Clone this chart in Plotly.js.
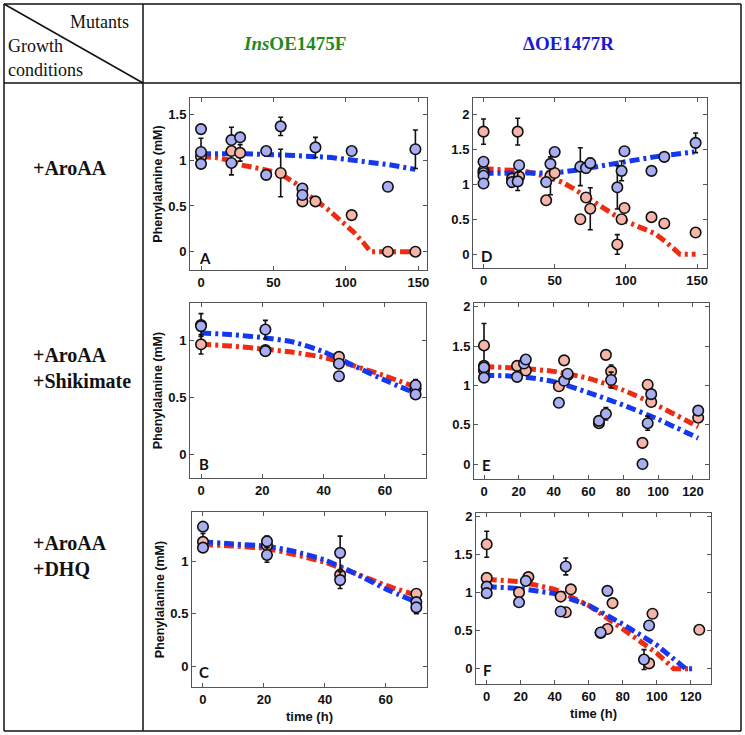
<!DOCTYPE html>
<html>
<head>
<meta charset="utf-8">
<script src="https://cdn.plot.ly/plotly-3.0.1.min.js"></script>
<style>html,body{margin:0;padding:0;background:#fff;}#chart{width:745px;height:735px;}</style>
</head>
<body>
<div id="chart"></div>
<script>
// ---------- Table texts ----------
const columnHeaders = ["<i>Ins</i>OE1475F", "ΔOE1477R"];
const rowLabels = ["+AroAA", "+AroAA<br>+Shikimate", "+AroAA<br>+DHQ"];
const panelLetters = ["A", "D", "B", "E", "C", "F"];

// ---------- Panel A : InsOE1475F, +AroAA ----------
const A_pink_x = [0, 21, 27, 55, 70, 79, 104, 129, 148];
const A_pink_y = [1.04, 1.10, 1.08, 0.86, 0.55, 0.55, 0.40, 0, 0];
const A_pink_err = [0, 0.26, 0.09, 0.26, 0, 0, 0, 0, 0];
const A_blue_x = [0, 0, 0, 21, 21, 27, 45, 45, 55, 70, 70, 79, 104, 129, 148];
const A_blue_y = [1.34, 1.09, 0.96, 1.22, 0.97, 1.25, 1.10, 0.84, 1.37, 0.69, 0.62, 1.14, 1.10, 0.71, 1.12];
const A_blue_err = [0.03, 0.15, 0.02, 0, 0, 0, 0, 0.03, 0.10, 0.03, 0, 0.11, 0, 0, 0.21];
const A_fitRed_x = [0, 10, 20, 27, 40, 54, 65, 74, 87, 97, 105, 112, 117, 130, 148];
const A_fitRed_y = [1.04, 1.03, 1.00, 0.95, 0.91, 0.86, 0.75, 0.62, 0.47, 0.33, 0.22, 0.10, 0, 0, 0];
const A_fitBlue_x = [0, 30, 60, 90, 110, 130, 148];
const A_fitBlue_y = [1.07, 1.07, 1.055, 1.03, 0.99, 0.95, 0.90];

// ---------- Panel D : ΔOE1477R, +AroAA ----------
const D_pink_x = [0, 0, 20, 24, 25, 44, 47, 50, 68, 72, 75, 94, 97, 99, 118, 127, 149];
const D_pink_y = [1.75, 1.19, 1.08, 1.75, 1.11, 0.77, 1.12, 1.16, 0.50, 0.81, 0.65, 0.14, 0.50, 0.66, 0.53, 0.44, 0.31];
const D_pink_err = [0.18, 0, 0, 0.19, 0.05, 0, 0.27, 0, 0, 0, 0.30, 0.14, 0, 0, 0.04, 0, 0];
const D_blue_x = [0, 0, 0, 0, 20, 24, 25, 44, 47, 50, 68, 72, 75, 94, 97, 99, 118, 127, 149];
const D_blue_y = [1.32, 1.16, 1.12, 1.01, 1.03, 1.04, 1.27, 1.03, 1.29, 1.46, 1.25, 1.23, 1.30, 0.955, 1.19, 1.47, 1.19, 1.39, 1.59];
const D_blue_err = [0, 0, 0, 0, 0, 0.13, 0, 0, 0.06, 0, 0.27, 0.07, 0.07, 0.31, 0.14, 0, 0, 0, 0.14];
const D_fitRed_x = [0, 15, 28, 44, 55, 63, 72, 82, 92, 101, 110, 120, 128, 134, 138, 149];
const D_fitRed_y = [1.22, 1.21, 1.19, 1.11, 1.03, 0.94, 0.82, 0.68, 0.56, 0.46, 0.39, 0.30, 0.18, 0.08, 0, 0];
const D_fitBlue_x = [0, 30, 50, 65, 80, 100, 120, 148];
const D_fitBlue_y = [1.155, 1.155, 1.16, 1.20, 1.25, 1.32, 1.39, 1.46];

// ---------- Panel B : InsOE1475F, +AroAA +Shikimate ----------
const B_pink_x = [0, 21, 45, 70];
const B_pink_y = [0.97, 0.92, 0.86, 0.58];
const B_pink_err = [0.085, 0, 0.03, 0];
const B_blue_x = [0, 0, 21, 21, 45, 45, 70, 70];
const B_blue_y = [1.14, 1.13, 1.10, 0.91, 0.80, 0.69, 0.61, 0.53];
const B_blue_err = [0.10, 0, 0.08, 0, 0, 0, 0.05, 0];
const B_fitRed_x = [0, 10, 21, 30, 40, 50, 60, 70];
const B_fitRed_y = [0.97, 0.955, 0.927, 0.90, 0.855, 0.78, 0.693, 0.595];
const B_fitBlue_x = [0, 10, 21, 30, 40, 50, 60, 70];
const B_fitBlue_y = [1.07, 1.055, 1.026, 0.99, 0.905, 0.78, 0.655, 0.54];

// ---------- Panel E : ΔOE1477R, +AroAA +Shikimate ----------
const E_pink_x = [0, 0, 19, 24, 43, 46, 48, 66, 70, 73, 91, 94, 96, 123];
const E_pink_y = [1.51, 1.19, 1.25, 1.19, 0.99, 1.32, 1.13, 0.52, 1.39, 1.18, 0.27, 1.01, 0.79, 0.59];
const E_pink_err = [0.28, 0, 0, 0, 0, 0.04, 0, 0, 0.04, 0.08, 0, 0.06, 0, 0];
const E_blue_x = [0, 0, 0, 19, 23, 24, 43, 46, 48, 66, 70, 73, 91, 94, 96, 123];
const E_blue_y = [1.25, 1.23, 1.10, 1.11, 1.28, 1.33, 0.78, 1.06, 1.15, 0.55, 0.64, 1.07, 0.0, 0.52, 0.89, 0.68];
const E_blue_err = [0, 0, 0, 0, 0, 0, 0, 0, 0, 0, 0.08, 0.10, 0, 0.09, 0.03, 0];
const E_fitRed_x = [0, 20, 40, 60, 80, 100, 123];
const E_fitRed_y = [1.24, 1.22, 1.18, 1.09, 0.94, 0.74, 0.475];
const E_fitBlue_x = [0, 20, 40, 60, 80, 100, 123];
const E_fitBlue_y = [1.13, 1.115, 1.05, 0.91, 0.75, 0.57, 0.33];

// ---------- Panel C : InsOE1475F, +AroAA +DHQ ----------
const C_pink_x = [0, 21, 45, 70];
const C_pink_y = [1.185, 1.15, 0.87, 0.69];
const C_pink_err = [0.08, 0, 0, 0];
const C_blue_x = [0, 0, 21, 21, 45, 45, 70, 70];
const C_blue_y = [1.33, 1.13, 1.19, 1.06, 1.08, 0.82, 0.61, 0.56];
const C_blue_err = [0, 0, 0.05, 0.07, 0.16, 0.08, 0, 0.06];
const C_fitRed_x = [0, 10, 21, 30, 40, 50, 60, 70];
const C_fitRed_y = [1.16, 1.145, 1.12, 1.064, 0.99, 0.884, 0.77, 0.675];
const C_fitBlue_x = [0, 10, 21, 30, 40, 50, 60, 70];
const C_fitBlue_y = [1.185, 1.165, 1.143, 1.094, 1.012, 0.882, 0.736, 0.61];

// ---------- Panel F : ΔOE1477R, +AroAA +DHQ ----------
const F_pink_x = [0, 0, 19, 24.5, 43.5, 46.5, 49.5, 67, 71, 74, 95.5, 97.5, 125];
const F_pink_y = [1.63, 1.19, 1.0, 1.20, 0.945, 0.74, 1.04, 0.47, 0.52, 0.86, 0.07, 0.72, 0.51];
const F_pink_err = [0.17, 0, 0, 0, 0, 0, 0, 0, 0, 0, 0, 0, 0];
const F_blue_x = [0, 0, 19, 23, 43.5, 46.5, 67, 71, 92.5, 95.5];
const F_blue_y = [1.076, 0.99, 0.87, 1.15, 0.75, 1.34, 0.475, 1.02, 0.12, 0.566];
const F_blue_err = [0, 0, 0.03, 0.06, 0, 0.11, 0, 0, 0.13, 0.03];
const F_fitRed_x = [0, 20, 40, 60, 80, 100, 110, 120];
const F_fitRed_y = [1.17, 1.14, 1.04, 0.83, 0.52, 0.205, 0, 0];
const F_fitBlue_x = [0, 20, 40, 60, 80, 100, 117, 123];
const F_fitBlue_y = [1.076, 1.05, 0.985, 0.83, 0.585, 0.31, 0, 0];

// ---------- Tick values ----------
const ticks150 = [0, 50, 100, 150];
const ticks60 = [0, 20, 40, 60];
const ticks120 = [0, 20, 40, 60, 80, 100, 120];
const ticksY15 = [0, 0.5, 1, 1.5];
const ticksY2 = [0, 0.5, 1, 1.5, 2];
const ticksY1 = [0, 0.5, 1];

// ---------- Styles ----------
const W = 745, H = 735;
const fx = px => px / W;
const fy = py => 1 - py / H;
const RED = '#ef2b12', BLUE = '#1538ee';
const PINK = '#f5b5a8', LAV = '#a9aef2';

const panels = [
  {id: '',  px: [190, 427], py: [98, 270],  xr: [-7.6, 156], yr: [-0.2, 1.68], xt: ticks150, yt: ticksY15, left: true,  bottom: false, lp: [205, 258],
   d: [A_pink_x, A_pink_y, A_pink_err, A_blue_x, A_blue_y, A_blue_err, A_fitRed_x, A_fitRed_y, A_fitBlue_x, A_fitBlue_y], shape: 'linear'},
  {id: '2', px: [473, 707], py: [98, 268],  xr: [-7.4, 157], yr: [-0.196, 2.23], xt: ticks150, yt: ticksY2, left: false, bottom: false, lp: [486, 256],
   d: [D_pink_x, D_pink_y, D_pink_err, D_blue_x, D_blue_y, D_blue_err, D_fitRed_x, D_fitRed_y, D_fitBlue_x, D_fitBlue_y], shape: 'linear'},
  {id: '3', px: [190, 426], py: [303, 478], xr: [-3.6, 73.4], yr: [-0.204, 1.333], xt: ticks60, yt: ticksY1, left: true, bottom: false, lp: [204, 464],
   d: [B_pink_x, B_pink_y, B_pink_err, B_blue_x, B_blue_y, B_blue_err, B_fitRed_x, B_fitRed_y, B_fitBlue_x, B_fitBlue_y], shape: 'spline'},
  {id: '4', px: [474, 709], py: [303, 479], xr: [-5.75, 129.2], yr: [-0.19, 2.05], xt: ticks120, yt: ticksY2, left: false, bottom: false, lp: [486, 465],
   d: [E_pink_x, E_pink_y, E_pink_err, E_blue_x, E_blue_y, E_blue_err, E_fitRed_x, E_fitRed_y, E_fitBlue_x, E_fitBlue_y], shape: 'spline'},
  {id: '5', px: [192, 427], py: [512, 687], xr: [-3.6, 73.5], yr: [-0.2, 1.47], xt: ticks60, yt: ticksY1, left: true, bottom: true, lp: [204, 672],
   d: [C_pink_x, C_pink_y, C_pink_err, C_blue_x, C_blue_y, C_blue_err, C_fitRed_x, C_fitRed_y, C_fitBlue_x, C_fitBlue_y], shape: 'spline'},
  {id: '6', px: [476, 711], py: [513, 684], xr: [-6.3, 131.9], yr: [-0.2, 2.04], xt: ticks120, yt: ticksY2, left: false, bottom: true, lp: [487, 670],
   d: [F_pink_x, F_pink_y, F_pink_err, F_blue_x, F_blue_y, F_blue_err, F_fitRed_x, F_fitRed_y, F_fitBlue_x, F_fitBlue_y], shape: 'linear'}
];

const sans = 'Liberation Sans, Arial, sans-serif';
const tickFont = {family: sans, size: 13, color: '#111', weight: 'bold'};
const traces = [];
const layout = {
  width: W, height: H, margin: {l: 0, r: 0, t: 0, b: 0},
  paper_bgcolor: '#fff', plot_bgcolor: '#fff', showlegend: false,
  shapes: [], annotations: []
};

panels.forEach((p, i) => {
  const [px_, py_, pe, bx, by, be, rx, ry, blx, bly] = p.d;
  const xa = 'x' + p.id, ya = 'y' + p.id;
  const dash = '10px,4px,3px,4px';
  traces.push({x: rx, y: ry, xaxis: xa, yaxis: ya, mode: 'lines', line: {color: RED, width: 5, dash: dash, shape: p.shape, smoothing: 0.6}, hoverinfo: 'skip'});
  traces.push({x: blx, y: bly, xaxis: xa, yaxis: ya, mode: 'lines', line: {color: BLUE, width: 5, dash: dash, shape: p.shape, smoothing: 0.6}, hoverinfo: 'skip'});
  const eb = arr => ({type: 'data', array: arr, visible: true, color: '#111', thickness: 1.6, width: 2.5});
  traces.push({x: px_, y: py_, xaxis: xa, yaxis: ya, mode: 'markers', error_y: eb(pe),
    marker: {size: 10.5, color: PINK, line: {color: '#111', width: 1.6}}});
  traces.push({x: bx, y: by, xaxis: xa, yaxis: ya, mode: 'markers', error_y: eb(be),
    marker: {size: 10.5, color: LAV, line: {color: '#111', width: 1.6}}});

  const axCommon = {showline: true, linecolor: '#555', linewidth: 1, mirror: 'ticks', ticks: 'inside', ticklen: 4,
    tickcolor: '#555', tickwidth: 1, showgrid: false, zeroline: false, tickfont: tickFont, fixedrange: true};
  layout['xaxis' + p.id] = Object.assign({}, axCommon, {
    domain: [fx(p.px[0]), fx(p.px[1])], range: p.xr, anchor: ya, tickvals: p.xt, ticktext: p.xt.map(String),
    title: p.bottom ? {text: 'time (h)', font: {family: sans, size: 13, color: '#111', weight: 'bold'}, standoff: 6} : {text: ''}
  });
  layout['yaxis' + p.id] = Object.assign({}, axCommon, {
    domain: [fy(p.py[1]), fy(p.py[0])], range: p.yr, anchor: xa, tickvals: p.yt, ticktext: p.yt.map(String),
    title: p.left ? {text: 'Phenylalanine (mM)', font: {family: sans, size: 12.5, color: '#111', weight: 'bold'}, standoff: 2} : {text: ''}
  });
  layout.annotations.push({xref: 'paper', yref: 'paper', x: fx(p.lp[0]), y: fy(p.lp[1]), xanchor: 'center', yanchor: 'middle',
    text: panelLetters[i], showarrow: false, font: {family: 'Lato, Open Sans, sans-serif', size: 15, color: '#111', weight: 'bold'}});
});

// ---------- Table frame ----------
const lineStyle = {color: '#111', width: 1.5};
const seg = (x0, y0, x1, y1) => ({type: 'line', xref: 'paper', yref: 'paper', x0: fx(x0), y0: fy(y0), x1: fx(x1), y1: fy(y1), line: lineStyle, layer: 'above'});
layout.shapes.push(seg(4, 4, 741, 4), seg(4, 731, 741, 731), seg(4, 4, 4, 731), seg(741, 4, 741, 731));
layout.shapes.push(seg(143, 4, 143, 731), seg(4, 83, 741, 83), seg(4, 4, 143, 83));

const serif = 'Liberation Serif, Times New Roman, serif';
const addText = (text, x, y, xanchor, font) => layout.annotations.push({xref: 'paper', yref: 'paper', x: fx(x), y: fy(y),
  xanchor: xanchor, yanchor: 'middle', align: 'left', text: text, showarrow: false, font: font});
addText('Mutants', 131, 22, 'right', {family: serif, size: 18, color: '#111'});
addText('Growth', 6, 46, 'left', {family: serif, size: 18, color: '#111'});
addText('conditions', 6, 70, 'left', {family: serif, size: 18, color: '#111'});
addText(columnHeaders[0], 294, 44, 'center', {family: serif, size: 19, color: '#1f8a1f', weight: 'bold'});
addText(columnHeaders[1], 568, 44, 'center', {family: serif, size: 19, color: '#1a1ad2', weight: 'bold'});
addText(rowLabels[0], 31, 168, 'left', {family: serif, size: 20, color: '#111', weight: 'bold'});
addText(rowLabels[1], 31, 368, 'left', {family: serif, size: 20, color: '#111', weight: 'bold'});
addText(rowLabels[2], 31, 556, 'left', {family: serif, size: 20, color: '#111', weight: 'bold'});

Plotly.newPlot('chart', traces, layout, {staticPlot: true, displayModeBar: false});
</script>
</body>
</html>
